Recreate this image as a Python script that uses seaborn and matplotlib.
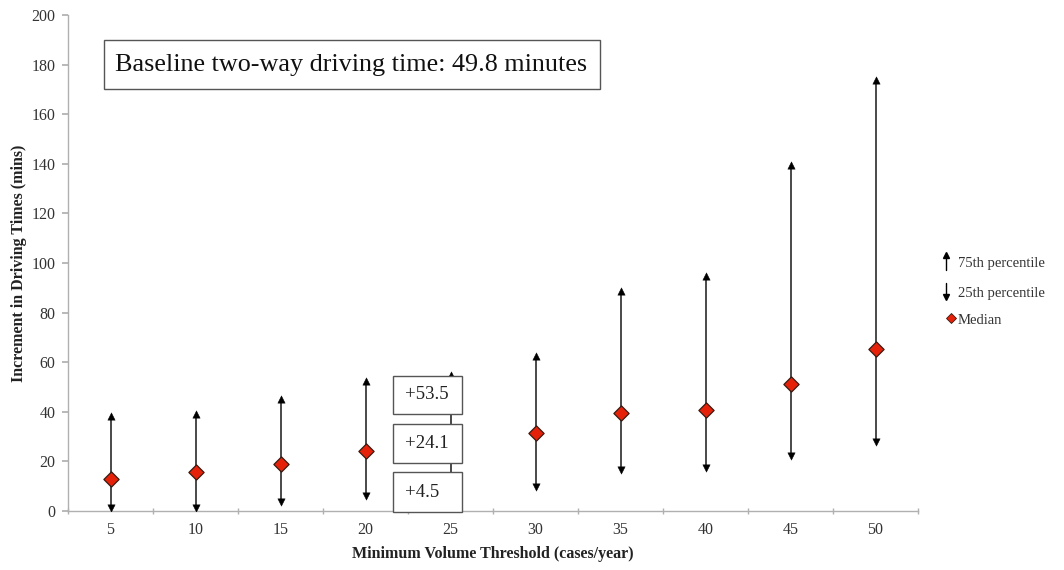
import numpy as np
import pandas as pd
import matplotlib
matplotlib.use("Agg")
import matplotlib.pyplot as plt
import seaborn as sns
from matplotlib.patches import Rectangle
from matplotlib.lines import Line2D

# ---- data ----
thresholds = ["5", "10", "15", "20", "25", "30", "35", "40", "45", "50"]
p75 = [38.3, 39.0, 45.0, 52.6, 54.9, 62.3, 88.8, 94.6, 139.6, 173.9]
median = [12.9, 15.7, 18.8, 24.3, 27.0, 31.3, 39.4, 40.8, 51.1, 65.5]
p25 = [1.3, 1.3, 3.8, 6.0, 6.5, 9.8, 16.5, 17.2, 22.3, 28.0]
box_labels = ["+53.5", "+24.1", "+4.5"]
title_text = "Baseline two-way driving time: 49.8 minutes"

df = pd.DataFrame({"threshold": thresholds, "p75": p75, "median": median, "p25": p25})
df["pos"] = np.arange(len(df))

sns.set_theme(style="white")
plt.rcParams["font.family"] = ["Liberation Serif", "DejaVu Serif"]

fig = plt.figure(figsize=(10.64, 5.70), dpi=100)
ax = fig.add_axes([68 / 1064, 59 / 570, 850 / 1064, 496 / 570])

# whiskers
ax.vlines(df["pos"], df["p25"], df["p75"], color="#3a3a3a", lw=1.3, zorder=2)
sns.scatterplot(data=df, x="pos", y="p75", marker="^", s=28, color="black",
                edgecolor="black", linewidth=0.3, ax=ax, zorder=3, legend=False)
sns.scatterplot(data=df, x="pos", y="p25", marker="v", s=28, color="black",
                edgecolor="black", linewidth=0.3, ax=ax, zorder=3, legend=False)
sns.scatterplot(data=df, x="pos", y="median", marker="D", s=60, color="#e52209",
                edgecolor="#3a1a10", linewidth=0.9, ax=ax, zorder=4, legend=False)

ax.set_xlim(-0.5, len(df) - 0.5)
ax.set_ylim(0, 200)
ax.set_yticks(np.arange(0, 201, 20))
ax.set_xticks(df["pos"])
ax.set_xticklabels(thresholds)
ax.set_xticks(np.arange(-0.5, len(df), 1), minor=True)

for s in ["top", "right"]:
    ax.spines[s].set_visible(False)
for s in ["left", "bottom"]:
    ax.spines[s].set_color("#b0b0b0")
    ax.spines[s].set_linewidth(1.0)

ax.tick_params(axis="y", which="major", direction="out", length=4, color="#b0b0b0",
               labelsize=11.5, labelcolor="#333333", left=True, pad=5)
ax.tick_params(axis="x", which="major", length=0, labelsize=11.5, labelcolor="#333333", pad=8)
ax.tick_params(axis="x", which="minor", direction="inout", length=5, color="#b0b0b0", bottom=True)

ax.set_xlabel("Minimum Volume Threshold (cases/year)", fontsize=11.5, fontweight="bold",
              color="#222222", labelpad=6)
ax.set_ylabel("Increment in Driving Times (mins)", fontsize=11.5, fontweight="bold",
              color="#222222", labelpad=3)

# title box
ax.add_patch(Rectangle((0.042, 0.851), 0.584, 0.099, transform=ax.transAxes,
                       facecolor="white", edgecolor="#555555", lw=1.0, zorder=5))
ax.text(0.055, 0.899, title_text, transform=ax.transAxes, fontsize=18.8,
        va="center", ha="left", color="#111111", zorder=6)

# annotation boxes near threshold 25
box_x0, box_x1 = 3.32, 4.135
box_ranges = [(39.1, 54.5), (19.4, 35.1), (-0.4, 15.7)]
for lab, (y0, y1) in zip(box_labels, box_ranges):
    ax.add_patch(Rectangle((box_x0, y0), box_x1 - box_x0, y1 - y0, facecolor="white",
                           edgecolor="#555555", lw=1.0, zorder=5, clip_on=False))
    ax.text(3.46, (y0 + y1) / 2, lab, fontsize=13.5, va="center", ha="left",
            color="#222222", zorder=6)

# manual legend (figure pixel coordinates)
def fx(px):
    return px / 1064

def fy(py):
    return 1 - py / 570

fig.add_artist(Line2D([fx(946), fx(946)], [fy(270), fy(256)], color="black", lw=1.0))
fig.add_artist(Line2D([fx(946)], [fy(255)], marker="^", markersize=5, color="black", lw=0))
fig.add_artist(Line2D([fx(946), fx(946)], [fy(283), fy(296)], color="black", lw=1.0))
fig.add_artist(Line2D([fx(946)], [fy(297)], marker="v", markersize=5, color="black", lw=0))
fig.add_artist(Line2D([fx(951)], [fy(318)], marker="D", markersize=5, color="#e52209",
                      markeredgecolor="#3a1a10", markeredgewidth=0.6, lw=0))
fig.text(fx(958), fy(263), "75th percentile", fontsize=10.5, va="center", ha="left", color="#333333")
fig.text(fx(958), fy(294), "25th percentile", fontsize=10.5, va="center", ha="left", color="#333333")
fig.text(fx(958), fy(321), "Median", fontsize=10.5, va="center", ha="left", color="#333333")

fig.savefig("out.png", dpi=100)
